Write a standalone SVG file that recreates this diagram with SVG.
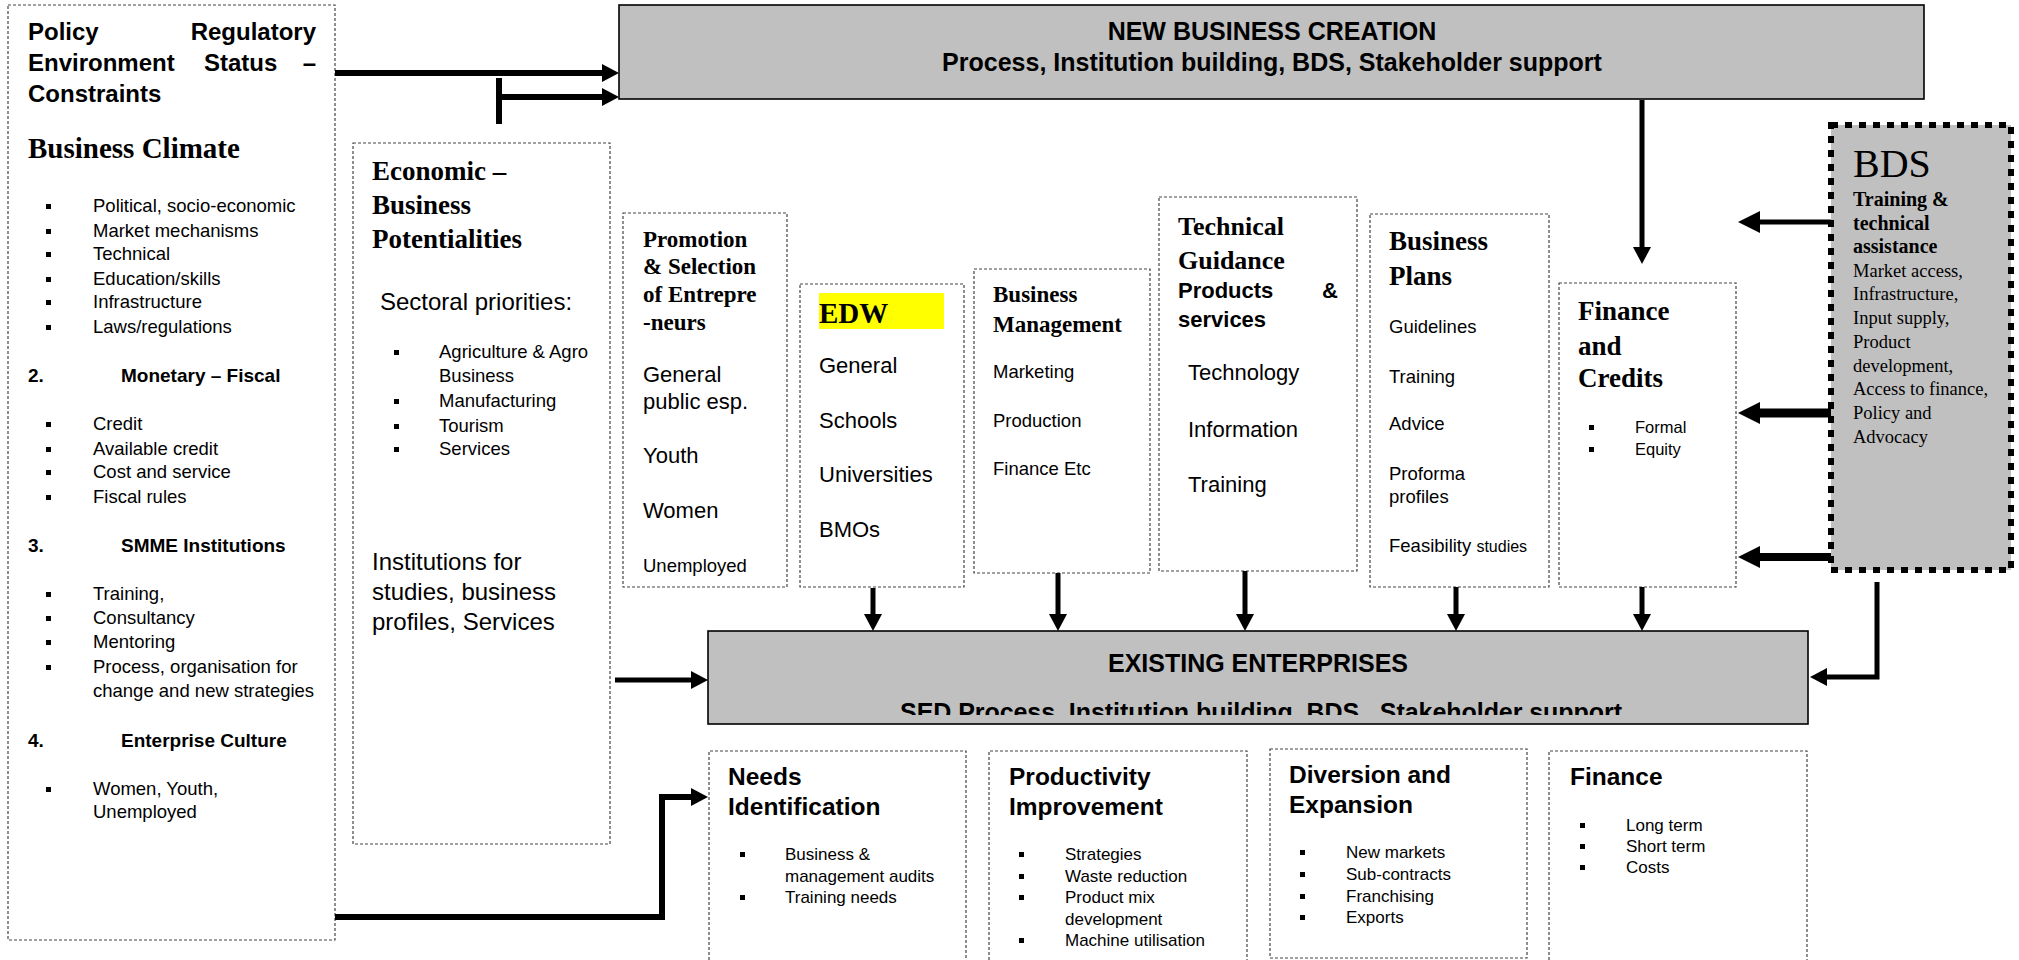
<svg xmlns="http://www.w3.org/2000/svg" width="2019" height="960" viewBox="0 0 2019 960">
  <style>
    .box { fill: #fff; stroke: #444; stroke-width: 1.2; stroke-dasharray: 3 2; }
    .open { fill: none; stroke: #444; stroke-width: 1.2; stroke-dasharray: 3 2; }
    .band { fill: #c0c0c0; stroke: #000; stroke-width: 1.6; }
    .bds { fill: #c0c0c0; stroke: #000; stroke-width: 6; stroke-dasharray: 7 7; }
    .s { font-family: "Liberation Sans", Arial, sans-serif; fill: #000; }
    .sb { font-family: "Liberation Sans", Arial, sans-serif; font-weight: bold; fill: #000; }
    .r { font-family: "Liberation Serif", "Times New Roman", serif; fill: #000; }
    .rb { font-family: "Liberation Serif", "Times New Roman", serif; font-weight: bold; fill: #000; }
    .blt { fill: #000; }
    .c { fill: none; stroke: #000; }
  </style>
  <defs>
    <marker id="ah" viewBox="0 0 17 18" markerWidth="17" markerHeight="18" refX="0" refY="9" orient="auto" markerUnits="userSpaceOnUse">
      <path d="M0,0 L17,9 L0,18 z" fill="#000"/>
    </marker>
    <marker id="ahL" viewBox="0 0 22 22" markerWidth="22" markerHeight="22" refX="0" refY="11" orient="auto" markerUnits="userSpaceOnUse">
      <path d="M0,0 L22,11 L0,22 z" fill="#000"/>
    </marker>
    <clipPath id="exClip">
      <rect x="708" y="631" width="1100" height="84"/>
    </clipPath>
  </defs>

  <!-- Policy / regulatory environment -->
  <g id="policy">
    <rect class="box" x="8" y="5" width="327" height="935"/>
    <text class="sb" font-size="24" x="28" y="40">Policy</text>
    <text class="sb" font-size="24" x="316" y="40" text-anchor="end">Regulatory</text>
    <text class="sb" font-size="24" x="28" y="71">Environment</text>
    <text class="sb" font-size="24" x="204" y="71">Status</text>
    <text class="sb" font-size="24" x="316" y="71" text-anchor="end">–</text>
    <text class="sb" font-size="24" x="28" y="102">Constraints</text>
    <text class="rb" font-size="29" x="28" y="158">Business Climate</text>
    <g font-size="18.5">
      <rect class="blt" x="46" y="204" width="5" height="5"/><text class="s" x="93" y="212">Political, socio-economic</text>
      <rect class="blt" x="46" y="229" width="5" height="5"/><text class="s" x="93" y="237">Market mechanisms</text>
      <rect class="blt" x="46" y="252" width="5" height="5"/><text class="s" x="93" y="260">Technical</text>
      <rect class="blt" x="46" y="277" width="5" height="5"/><text class="s" x="93" y="285">Education/skills</text>
      <rect class="blt" x="46" y="300" width="5" height="5"/><text class="s" x="93" y="308">Infrastructure</text>
      <rect class="blt" x="46" y="325" width="5" height="5"/><text class="s" x="93" y="333">Laws/regulations</text>
      <text class="sb" font-size="19" x="28" y="382">2.</text>
      <text class="sb" font-size="19" x="121" y="382">Monetary – Fiscal</text>
      <rect class="blt" x="46" y="422" width="5" height="5"/><text class="s" x="93" y="430">Credit</text>
      <rect class="blt" x="46" y="447" width="5" height="5"/><text class="s" x="93" y="455">Available credit</text>
      <rect class="blt" x="46" y="470" width="5" height="5"/><text class="s" x="93" y="478">Cost and service</text>
      <rect class="blt" x="46" y="495" width="5" height="5"/><text class="s" x="93" y="503">Fiscal rules</text>
      <text class="sb" font-size="19" x="28" y="552">3.</text>
      <text class="sb" font-size="19" x="121" y="552">SMME Institutions</text>
      <rect class="blt" x="46" y="592" width="5" height="5"/><text class="s" x="93" y="600">Training,</text>
      <rect class="blt" x="46" y="616" width="5" height="5"/><text class="s" x="93" y="624">Consultancy</text>
      <rect class="blt" x="46" y="640" width="5" height="5"/><text class="s" x="93" y="648">Mentoring</text>
      <rect class="blt" x="46" y="665" width="5" height="5"/><text class="s" x="93" y="673">Process, organisation for</text>
      <text class="s" x="93" y="697">change and new strategies</text>
      <text class="sb" font-size="19" x="28" y="747">4.</text>
      <text class="sb" font-size="19" x="121" y="747">Enterprise Culture</text>
      <rect class="blt" x="46" y="787" width="5" height="5"/><text class="s" x="93" y="795">Women, Youth,</text>
      <text class="s" x="93" y="818">Unemployed</text>
    </g>
  </g>

  <!-- Economic / business potentialities -->
  <g id="economic">
    <rect class="box" x="353" y="143" width="257" height="701"/>
    <text class="rb" font-size="27" x="372" y="180">Economic –</text>
    <text class="rb" font-size="27" x="372" y="214">Business</text>
    <text class="rb" font-size="27" x="372" y="248">Potentialities</text>
    <text class="s" font-size="24" x="380" y="310">Sectoral priorities:</text>
    <g font-size="18.5">
      <rect class="blt" x="394" y="350" width="5" height="5"/><text class="s" x="439" y="358">Agriculture &amp; Agro</text>
      <text class="s" x="439" y="382">Business</text>
      <rect class="blt" x="394" y="399" width="5" height="5"/><text class="s" x="439" y="407">Manufacturing</text>
      <rect class="blt" x="394" y="424" width="5" height="5"/><text class="s" x="439" y="432">Tourism</text>
      <rect class="blt" x="394" y="447" width="5" height="5"/><text class="s" x="439" y="455">Services</text>
    </g>
    <text class="s" font-size="24" x="372" y="570">Institutions for</text>
    <text class="s" font-size="24" x="372" y="600">studies, business</text>
    <text class="s" font-size="24" x="372" y="630">profiles, Services</text>
  </g>

  <!-- New business creation band -->
  <g id="new-business">
    <rect class="band" x="619" y="5" width="1305" height="94"/>
    <text class="sb" font-size="25" x="1272" y="40" text-anchor="middle">NEW BUSINESS CREATION</text>
    <text class="sb" font-size="25" x="1272" y="71" text-anchor="middle">Process, Institution building, BDS, Stakeholder support</text>
  </g>

  <!-- Promotion and selection -->
  <g id="promotion">
    <rect class="box" x="623" y="213" width="164" height="374"/>
    <text class="rb" font-size="23" x="643" y="247">Promotion</text>
    <text class="rb" font-size="23" x="643" y="274">&amp; Selection</text>
    <text class="rb" font-size="23" x="643" y="302">of Entrepre</text>
    <text class="rb" font-size="23" x="643" y="330">-neurs</text>
    <text class="s" font-size="22" x="643" y="382">General</text>
    <text class="s" font-size="22" x="643" y="409">public esp.</text>
    <text class="s" font-size="22" x="643" y="463">Youth</text>
    <text class="s" font-size="22" x="643" y="518">Women</text>
    <text class="s" font-size="18.5" x="643" y="572">Unemployed</text>
  </g>

  <!-- EDW -->
  <g id="edw">
    <rect class="box" x="800" y="284" width="164" height="303"/>
    <rect x="819" y="293" width="125" height="36" fill="#ffff00"/>
    <text class="rb" font-size="29" x="819" y="323">EDW</text>
    <text class="s" font-size="22" x="819" y="373">General</text>
    <text class="s" font-size="22" x="819" y="428">Schools</text>
    <text class="s" font-size="22" x="819" y="482">Universities</text>
    <text class="s" font-size="22" x="819" y="537">BMOs</text>
  </g>

  <!-- Business management -->
  <g id="business-management">
    <rect class="box" x="974" y="269" width="176" height="304"/>
    <text class="rb" font-size="23" x="993" y="302">Business</text>
    <text class="rb" font-size="23" x="993" y="332">Management</text>
    <text class="s" font-size="18.5" x="993" y="378">Marketing</text>
    <text class="s" font-size="18.5" x="993" y="427">Production</text>
    <text class="s" font-size="18.5" x="993" y="475">Finance Etc</text>
  </g>

  <!-- Technical guidance -->
  <g id="technical-guidance">
    <rect class="box" x="1159" y="197" width="198" height="374"/>
    <text class="rb" font-size="26" x="1178" y="235">Technical</text>
    <text class="rb" font-size="26" x="1178" y="269">Guidance</text>
    <text class="sb" font-size="22" x="1178" y="298">Products</text>
    <text class="sb" font-size="22" x="1338" y="298" text-anchor="end">&amp;</text>
    <text class="sb" font-size="22" x="1178" y="327">services</text>
    <text class="s" font-size="22" x="1188" y="380">Technology</text>
    <text class="s" font-size="22" x="1188" y="437">Information</text>
    <text class="s" font-size="22" x="1188" y="492">Training</text>
  </g>

  <!-- Business plans -->
  <g id="business-plans">
    <rect class="box" x="1370" y="214" width="179" height="373"/>
    <text class="rb" font-size="27" x="1389" y="250">Business</text>
    <text class="rb" font-size="27" x="1389" y="285">Plans</text>
    <text class="s" font-size="18.5" x="1389" y="333">Guidelines</text>
    <text class="s" font-size="18.5" x="1389" y="383">Training</text>
    <text class="s" font-size="18.5" x="1389" y="430">Advice</text>
    <text class="s" font-size="18.5" x="1389" y="480">Proforma</text>
    <text class="s" font-size="18.5" x="1389" y="503">profiles</text>
    <text class="s" font-size="18.5" x="1389" y="552">Feasibility <tspan font-size="16">studies</tspan></text>
  </g>

  <!-- Finance and credits -->
  <g id="finance-credits">
    <rect class="box" x="1559" y="283" width="177" height="304"/>
    <text class="rb" font-size="27" x="1578" y="320">Finance</text>
    <text class="rb" font-size="27" x="1578" y="355">and</text>
    <text class="rb" font-size="27" x="1578" y="387">Credits</text>
    <rect class="blt" x="1589" y="425" width="5" height="5"/><text class="s" font-size="16.5" x="1635" y="433">Formal</text>
    <rect class="blt" x="1589" y="447" width="5" height="5"/><text class="s" font-size="16.5" x="1635" y="455">Equity</text>
  </g>

  <!-- BDS provider -->
  <g id="bds">
    <rect class="bds" x="1831" y="125" width="180" height="445"/>
    <text class="r" font-size="40" x="1853" y="177">BDS</text>
    <text class="rb" font-size="20" x="1853" y="206">Training &amp;</text>
    <text class="rb" font-size="20" x="1853" y="230">technical</text>
    <text class="rb" font-size="20" x="1853" y="253">assistance</text>
    <g class="r" font-size="18.5">
      <text x="1853" y="277">Market access,</text>
      <text x="1853" y="300">Infrastructure,</text>
      <text x="1853" y="324">Input supply,</text>
      <text x="1853" y="348">Product</text>
      <text x="1853" y="372">development,</text>
      <text x="1853" y="395">Access to finance,</text>
      <text x="1853" y="419">Policy and</text>
      <text x="1853" y="443">Advocacy</text>
    </g>
  </g>

  <!-- Existing enterprises band -->
  <g id="existing">
    <rect class="band" x="708" y="631" width="1100" height="93"/>
    <text class="sb" font-size="25" x="1258" y="672" text-anchor="middle">EXISTING ENTERPRISES</text>
    <text class="sb" font-size="25" x="900" y="721" textLength="722" clip-path="url(#exClip)" xml:space="preserve">SED Process, Institution building, BDS,  Stakeholder support</text>
  </g>

  <!-- Needs identification -->
  <g id="needs">
    <path class="open" d="M709,960 V751 H966 V960"/>
    <text class="sb" font-size="24.5" x="728" y="785">Needs</text>
    <text class="sb" font-size="24.5" x="728" y="815">Identification</text>
    <rect class="blt" x="740" y="852" width="5" height="5"/><text class="s" font-size="17" x="785" y="860">Business &amp;</text>
    <text class="s" font-size="17" x="785" y="882">management audits</text>
    <rect class="blt" x="740" y="895" width="5" height="5"/><text class="s" font-size="17" x="785" y="903">Training needs</text>
  </g>

  <!-- Productivity improvement -->
  <g id="productivity">
    <path class="open" d="M989,960 V751 H1247 V960"/>
    <text class="sb" font-size="24.5" x="1009" y="785">Productivity</text>
    <text class="sb" font-size="24.5" x="1009" y="815">Improvement</text>
    <rect class="blt" x="1019" y="852" width="5" height="5"/><text class="s" font-size="17" x="1065" y="860">Strategies</text>
    <rect class="blt" x="1019" y="874" width="5" height="5"/><text class="s" font-size="17" x="1065" y="882">Waste reduction</text>
    <rect class="blt" x="1019" y="895" width="5" height="5"/><text class="s" font-size="17" x="1065" y="903">Product mix</text>
    <text class="s" font-size="17" x="1065" y="925">development</text>
    <rect class="blt" x="1019" y="938" width="5" height="5"/><text class="s" font-size="17" x="1065" y="946">Machine utilisation</text>
  </g>

  <!-- Diversion and expansion -->
  <g id="diversion">
    <rect class="box" x="1270" y="749" width="257" height="209"/>
    <text class="sb" font-size="24.5" x="1289" y="783">Diversion and</text>
    <text class="sb" font-size="24.5" x="1289" y="813">Expansion</text>
    <rect class="blt" x="1300" y="850" width="5" height="5"/><text class="s" font-size="17" x="1346" y="858">New markets</text>
    <rect class="blt" x="1300" y="872" width="5" height="5"/><text class="s" font-size="17" x="1346" y="880">Sub-contracts</text>
    <rect class="blt" x="1300" y="894" width="5" height="5"/><text class="s" font-size="17" x="1346" y="902">Franchising</text>
    <rect class="blt" x="1300" y="915" width="5" height="5"/><text class="s" font-size="17" x="1346" y="923">Exports</text>
  </g>

  <!-- Finance (existing enterprises) -->
  <g id="finance">
    <path class="open" d="M1549,960 V751 H1807 V960"/>
    <text class="sb" font-size="24.5" x="1570" y="785">Finance</text>
    <rect class="blt" x="1580" y="823" width="5" height="5"/><text class="s" font-size="17" x="1626" y="831">Long term</text>
    <rect class="blt" x="1580" y="844" width="5" height="5"/><text class="s" font-size="17" x="1626" y="852">Short term</text>
    <rect class="blt" x="1580" y="865" width="5" height="5"/><text class="s" font-size="17" x="1626" y="873">Costs</text>
  </g>

  <!-- Connectors -->
  <g id="connectors">
    <path class="c" stroke-width="6" d="M335,73 H602" marker-end="url(#ah)"/>
    <path class="c" stroke-width="6" d="M499,78 V124"/>
    <path class="c" stroke-width="6" d="M499,97 H602" marker-end="url(#ah)"/>
    <path class="c" stroke-width="5" d="M1642,100 V247" marker-end="url(#ah)"/>
    <path class="c" stroke-width="5" d="M1831,222 H1760" marker-end="url(#ahL)"/>
    <path class="c" stroke-width="9" d="M1831,413 H1760" marker-end="url(#ahL)"/>
    <path class="c" stroke-width="8" d="M1831,557 H1760" marker-end="url(#ahL)"/>
    <path class="c" stroke-width="5" d="M1877,582 V677 H1827" marker-end="url(#ah)"/>
    <path class="c" stroke-width="5" d="M873,588 V614" marker-end="url(#ah)"/>
    <path class="c" stroke-width="5" d="M1058,573 V614" marker-end="url(#ah)"/>
    <path class="c" stroke-width="5" d="M1245,571 V614" marker-end="url(#ah)"/>
    <path class="c" stroke-width="5" d="M1456,587 V614" marker-end="url(#ah)"/>
    <path class="c" stroke-width="5" d="M1642,587 V614" marker-end="url(#ah)"/>
    <path class="c" stroke-width="5" d="M615,680 H691" marker-end="url(#ah)"/>
    <path class="c" stroke-width="6" d="M335,917 H662 V797 H691" marker-end="url(#ah)"/>
  </g>
</svg>
